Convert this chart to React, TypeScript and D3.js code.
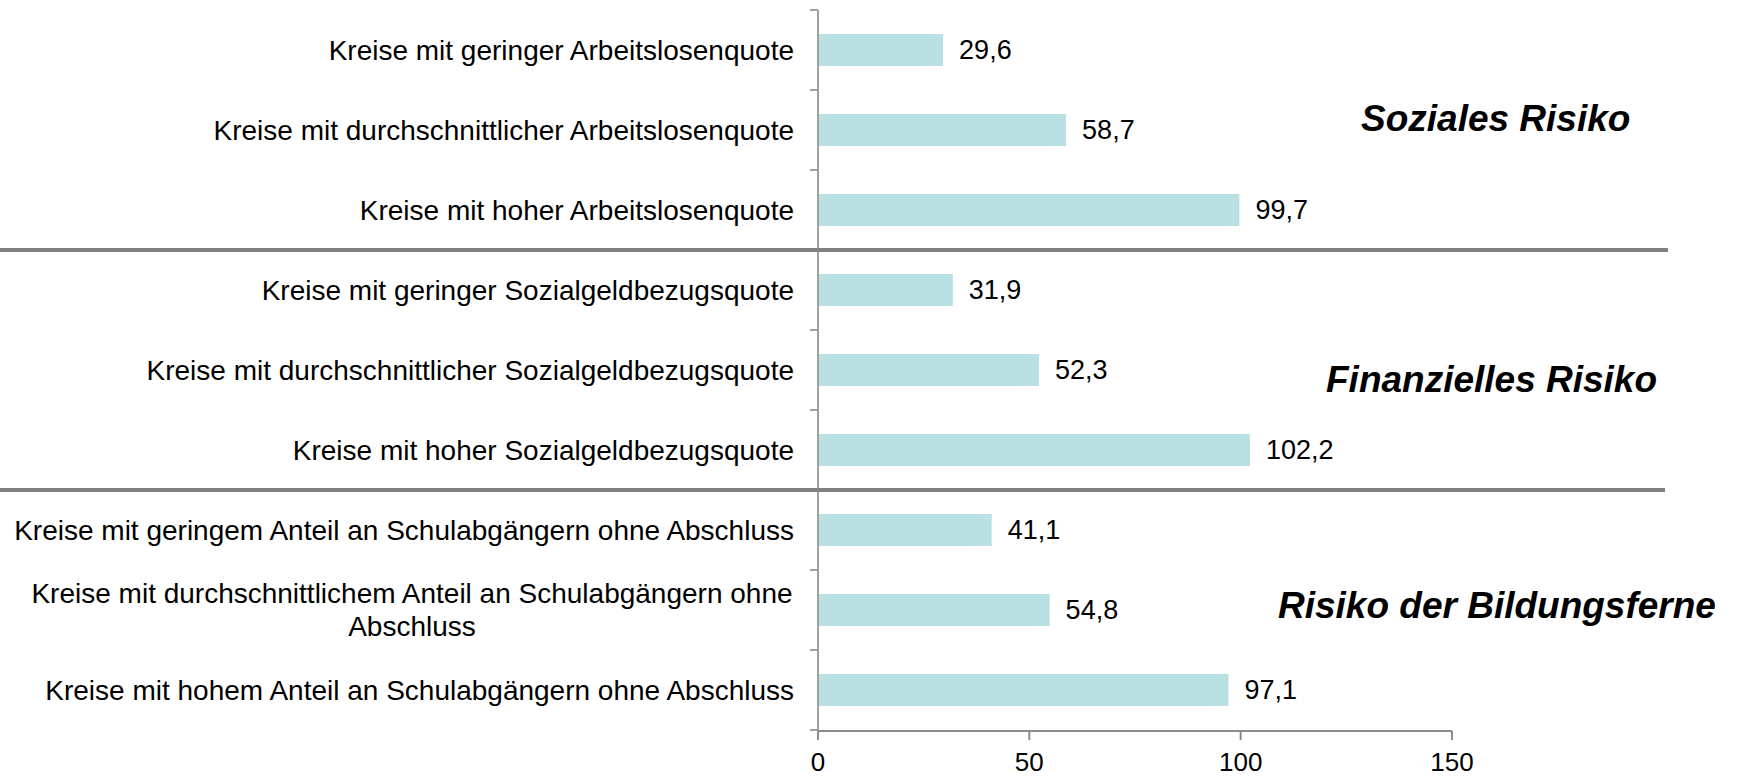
import React from "react";
import * as d3 from "d3";

const categories: string[][] = [
  ["Kreise mit geringer Arbeitslosenquote"],
  ["Kreise mit durchschnittlicher Arbeitslosenquote"],
  ["Kreise mit hoher Arbeitslosenquote"],
  ["Kreise mit geringer Sozialgeldbezugsquote"],
  ["Kreise mit durchschnittlicher Sozialgeldbezugsquote"],
  ["Kreise mit hoher Sozialgeldbezugsquote"],
  ["Kreise mit geringem Anteil an Schulabgängern ohne Abschluss"],
  ["Kreise mit durchschnittlichem Anteil an Schulabgängern ohne", "Abschluss"],
  ["Kreise mit hohem Anteil an Schulabgängern ohne Abschluss"],
];
const values: number[] = [29.6, 58.7, 99.7, 31.9, 52.3, 102.2, 41.1, 54.8, 97.1];
const groupTitles: string[] = ["Soziales Risiko", "Finanzielles Risiko", "Risiko der Bildungsferne"];
const groupEnds: number[] = [2, 5];
const xTicks: number[] = [0, 50, 100, 150];

const W = 1737;
const H = 777;
const FONT = "'Liberation Sans', Arial, sans-serif";
const locale = d3.formatLocale({ decimal: ",", thousands: ".", grouping: [3], currency: ["", " €"] });
const fmt = locale.format(".1f");

export default function App() {
  const x = d3.scaleLinear().domain([0, 150]).range([818, 1452]);
  const idx = categories.map((_, i) => String(i));
  const y = d3.scaleBand().domain(idx).range([10, 730]).paddingInner(0.6).paddingOuter(0.3);
  const bw = y.bandwidth();
  const step = y.step();
  const bounds = idx.map((d) => (y(d) as number) + bw / 2 - step / 2);
  bounds.push((y(idx[idx.length - 1]) as number) + bw / 2 + step / 2);

  const titlePos = [
    { x: 1361, y: 131 },
    { x: 1326, y: 392 },
    { x: 1278, y: 618 },
  ];
  const sepEnd = [1668, 1665];

  return (
    <div style={{ position: "fixed", left: 0, top: 0 }}>
      <svg width={W} height={H} style={{ display: "block", background: "#fff" }}>
        {/* bars */}
        {values.map((v, i) => (
          <rect
            key={"b" + i}
            x={x(0) + 1}
            y={y(idx[i]) as number}
            width={x(v) - x(0) - 1}
            height={bw}
            fill="#b9e0e3"
          />
        ))}
        {/* value labels */}
        {values.map((v, i) => (
          <text
            key={"v" + i}
            x={x(v) + 16}
            y={(y(idx[i]) as number) + bw / 2}
            dy="0.35em"
            fontFamily={FONT}
            fontSize={27}
            fill="#000"
          >
            {fmt(v)}
          </text>
        ))}
        {/* category labels */}
        {categories.map((lines, i) => {
          const cy = (y(idx[i]) as number) + bw / 2;
          const lh = 33;
          const y0 = cy - ((lines.length - 1) * lh) / 2;
          return (
            <text key={"c" + i} textAnchor={lines.length > 1 ? "middle" : "end"} fontFamily={FONT} fontSize={28} fill="#000">
              {lines.map((l, j) => (
                <tspan key={j} x={lines.length > 1 ? 412 : 794} y={y0 + j * lh} dy="0.35em">
                  {l}
                </tspan>
              ))}
            </text>
          );
        })}
        {/* y axis */}
        <line x1={x(0)} x2={x(0)} y1={bounds[0]} y2={bounds[bounds.length - 1]} stroke="#a0a0a0" strokeWidth={2} />
        {bounds.map((b, i) => (
          <line key={"yt" + i} x1={x(0) - 8} x2={x(0)} y1={b} y2={b} stroke="#a0a0a0" strokeWidth={2} />
        ))}
        {/* x axis */}
        <line x1={x(0)} x2={x(150)} y1={bounds[bounds.length - 1] + 1} y2={bounds[bounds.length - 1] + 1} stroke="#8c8c8c" strokeWidth={2} />
        {xTicks.map((t) => (
          <g key={"xt" + t}>
            <line x1={x(t)} x2={x(t)} y1={731} y2={740} stroke="#8c8c8c" strokeWidth={2} />
            <text x={x(t)} y={771} textAnchor="middle" fontFamily={FONT} fontSize={26} fill="#000">
              {t}
            </text>
          </g>
        ))}
        {/* group separators */}
        {groupEnds.map((g, i) => (
          <line key={"s" + i} x1={0} x2={sepEnd[i]} y1={bounds[g + 1]} y2={bounds[g + 1]} stroke="#808080" strokeWidth={4} />
        ))}
        {/* group titles */}
        {groupTitles.map((t, i) => (
          <text
            key={"g" + i}
            x={titlePos[i].x}
            y={titlePos[i].y}
            fontFamily={FONT}
            fontSize={37}
            fontWeight="bold"
            fontStyle="italic"
            fill="#000"
          >
            {t}
          </text>
        ))}
      </svg>
    </div>
  );
}
